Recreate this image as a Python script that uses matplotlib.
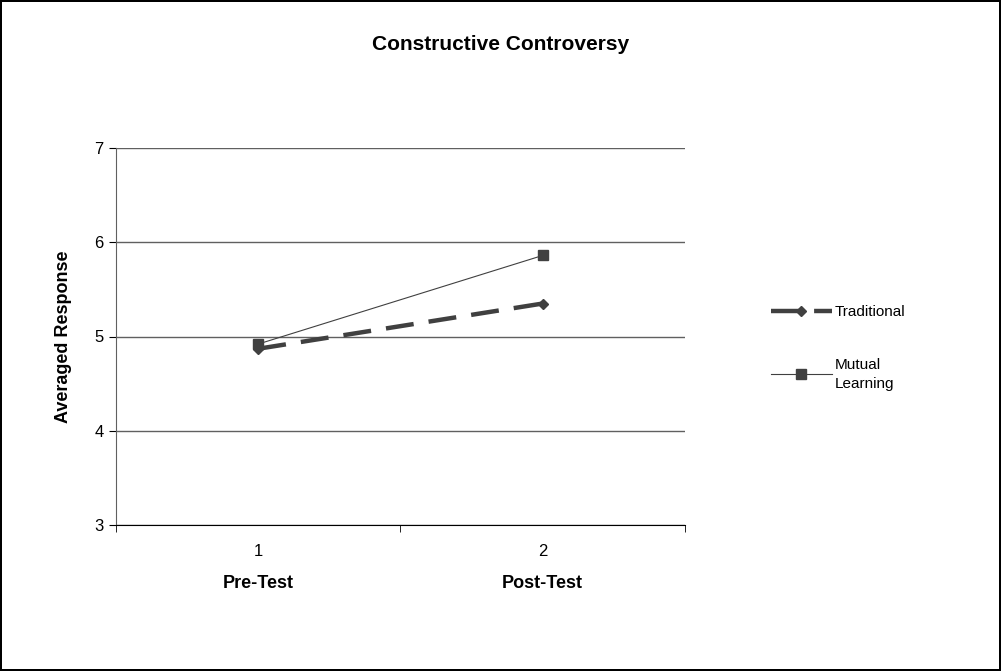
import matplotlib
matplotlib.use("Agg")
import matplotlib.pyplot as plt
import matplotlib.ticker as mticker

plt.rcParams["font.family"] = ["Liberation Sans", "DejaVu Sans"]

# ── Data ──────────────────────────────────────────────────────────────────
tests       = [1, 2]
test_names  = ["Pre-Test", "Post-Test"]
traditional = [4.87, 5.35]
mutual      = [4.92, 5.86]

LINE_C = "#404040"
GRID_C = "#606060"

fig = plt.figure(figsize=(10.01, 6.71), dpi=100)
fig.patch.set_facecolor("white")
fig.patch.set_edgecolor("black")
fig.patch.set_linewidth(1.5)

ax = fig.add_axes([116/1001, 1 - 525/671, (685 - 116)/1001, (525 - 148)/671])

ax.plot(tests, traditional, color=LINE_C, linewidth=3.2, dashes=(6.3, 3.4),
        marker="D", markersize=5, markerfacecolor=LINE_C, markeredgecolor=LINE_C,
        label="Traditional", zorder=3)
ax.plot(tests, mutual, color=LINE_C, linewidth=0.8,
        marker="s", markersize=7, markerfacecolor=LINE_C, markeredgecolor=LINE_C,
        label="Mutual\nLearning", zorder=3)

ax.set_xlim(0.5, 2.5)
ax.set_ylim(3, 7)
ax.set_yticks([3, 4, 5, 6, 7])
ax.set_xticks(tests)
ax.set_xticklabels([str(t) for t in tests])
ax.xaxis.set_minor_locator(mticker.FixedLocator([0.5, 1.5, 2.5]))
ax.tick_params(axis="x", which="major", length=0, pad=14, labelsize=12)
ax.tick_params(axis="x", which="minor", length=5, direction="out", color="black")
ax.tick_params(axis="y", length=5, direction="out", labelsize=12, pad=4)

ax.grid(axis="y", color=GRID_C, linewidth=1.0)
ax.set_axisbelow(True)
ax.spines[["top", "right"]].set_visible(False)
ax.spines["left"].set_color(GRID_C)
ax.spines["bottom"].set_color("black")

for t, name in zip(tests, test_names):
    ax.text(t, -0.155, name, transform=ax.get_xaxis_transform(),
            ha="center", va="center", fontsize=13, fontweight="bold")

ax.set_ylabel("Averaged Response", fontsize=13, fontweight="bold", labelpad=16)

fig.text(0.5, 1 - 45/671, "Constructive Controversy", ha="center", va="center",
         fontsize=15, fontweight="bold")

leg = fig.legend(loc="center left", bbox_to_anchor=(757/1001, 1 - 348/671),
                 frameon=False, fontsize=11, handlelength=4.0, handletextpad=0.2,
                 labelspacing=2.5)
for txt in leg.get_texts():
    txt.set_linespacing(1.45)

plt.savefig("out.png", dpi=100, facecolor=fig.get_facecolor(),
            edgecolor=fig.get_edgecolor())
